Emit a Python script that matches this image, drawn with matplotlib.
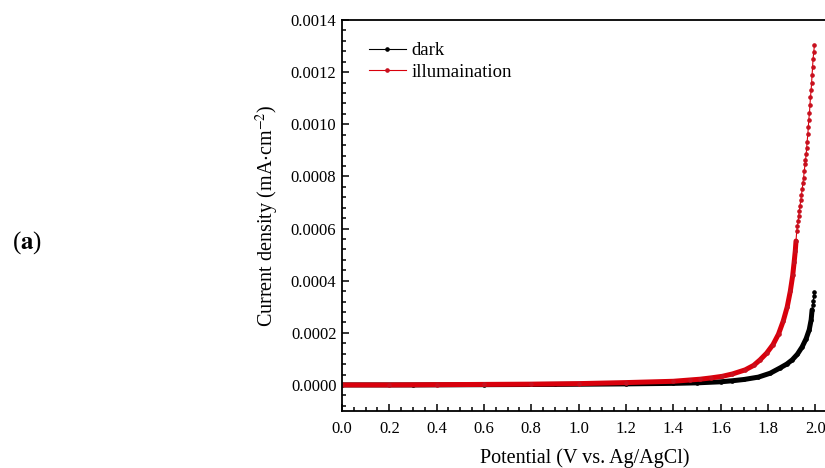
import numpy as np
import matplotlib.pyplot as plt
from matplotlib.ticker import MultipleLocator, FormatStrFormatter

plt.rcParams['font.family'] = ['Liberation Serif', 'DejaVu Serif']
plt.rcParams['mathtext.fontset'] = 'stix'

# potential (V vs. Ag/AgCl) and current density
dark_v = [0.0, 0.3, 0.6, 0.9, 1.2, 1.4, 1.5, 1.6, 1.65, 1.7, 1.76, 1.81, 1.852,
          1.88, 1.903, 1.925, 1.945, 1.962, 1.975, 1.983, 1.987, 1.989,
          1.992, 1.994, 1.996]
dark_i = [0.0, 0.0, 0.000001, 0.000002, 0.000004, 0.000006, 0.000008,
          0.000012, 0.000016, 0.000021, 0.000030, 0.000045, 0.0000654,
          0.000080, 0.0000962, 0.000118, 0.000146, 0.000178, 0.000212,
          0.000250, 0.000288, 0.000305, 0.000322, 0.000340, 0.000358]

illum_v = [0.0, 0.2, 0.4, 0.6, 0.8, 1.0, 1.2, 1.4, 1.471, 1.514, 1.56, 1.607,
           1.65, 1.704, 1.74, 1.767, 1.795, 1.822, 1.845, 1.865, 1.882,
           1.895, 1.905, 1.911, 1.916, 1.919,
           1.922, 1.925, 1.928, 1.930, 1.933, 1.936, 1.939, 1.942, 1.945,
           1.948, 1.951, 1.954, 1.957, 1.959, 1.962, 1.964, 1.966, 1.969,
           1.971, 1.973, 1.976, 1.978, 1.980, 1.983, 1.985, 1.987, 1.989,
           1.991, 1.994, 1.997]
illum_i = [0.0, 0.0, 0.000001, 0.000002, 0.000003, 0.000005, 0.000009,
           0.000014, 0.000019, 0.000022, 0.000027, 0.000033, 0.000042,
           0.0000577, 0.000075, 0.0000962, 0.000122, 0.000155, 0.000195,
           0.000245, 0.000300, 0.000360, 0.000420, 0.000470, 0.000515,
           0.000552,
           0.000590, 0.000609, 0.000628, 0.000647, 0.000667, 0.000688,
           0.000708, 0.000728, 0.000750, 0.000773, 0.000795, 0.000820,
           0.000846, 0.000861, 0.000885, 0.000908, 0.000933, 0.000962,
           0.000988, 0.001017, 0.001045, 0.001074, 0.001103, 0.001132,
           0.001160, 0.001190, 0.001219, 0.001249, 0.001277, 0.001305]

dark_v, dark_i = np.array(dark_v), np.array(dark_i)
illum_v, illum_i = np.array(illum_v), np.array(illum_i)

fig = plt.figure(figsize=(8.25, 4.68), dpi=100)
ax = fig.add_axes([342 / 825, 1 - 411 / 468, 485 / 825, 391 / 468])

red = '#d9000c'

# dense part of the scans shows as a thick band
m = dark_i < 0.00030
ax.plot(dark_v[m], dark_i[m], color='black', lw=3.6, solid_capstyle='round')
ax.plot(dark_v, dark_i, '-o', color='black', lw=0.8, ms=2.3, label='dark')
m = illum_i < 0.00057
ax.plot(illum_v[m], illum_i[m], color=red, lw=3.6, solid_capstyle='round')
ax.plot(illum_v, illum_i, '-o', color=red, mfc='#c8101e', mec='#c8101e',
        lw=0.8, ms=2.3, label='illumaination')

ax.set_xlim(0, 2.05)
ax.set_ylim(-0.0001, 0.0014)
ax.xaxis.set_major_locator(MultipleLocator(0.2))
ax.xaxis.set_minor_locator(MultipleLocator(0.05))
ax.yaxis.set_major_locator(MultipleLocator(0.0002))
ax.yaxis.set_minor_locator(MultipleLocator(0.00004))
ax.xaxis.set_major_formatter(FormatStrFormatter('%.1f'))
ax.yaxis.set_major_formatter(FormatStrFormatter('%.4f'))
ax.tick_params(which='both', direction='in', top=False, right=False,
               labelsize=12, width=1.1)
ax.tick_params(which='major', length=5)
ax.tick_params(which='minor', length=3)
ax.tick_params(axis='x', pad=7)
ax.tick_params(axis='y', pad=4)
for s in ax.spines.values():
    s.set_linewidth(1.3)

ax.set_xlabel('Potential (V vs. Ag/AgCl)', fontsize=14.5, labelpad=8)
ax.set_ylabel(r'Current density (mA$\cdot$cm$^{-2}$)', fontsize=14.5, labelpad=7)

ax.legend(loc='upper left', frameon=False, fontsize=13.5, handlelength=2.0,
          handletextpad=0.3, labelspacing=0.25, borderaxespad=0.5,
          bbox_to_anchor=(0.02, 0.987))

fig.text(12 / 825, 1 - 243 / 468, r'($\mathbf{a}$)', fontsize=18,
         va='center', ha='left')

fig.savefig('out.png', dpi=100)
